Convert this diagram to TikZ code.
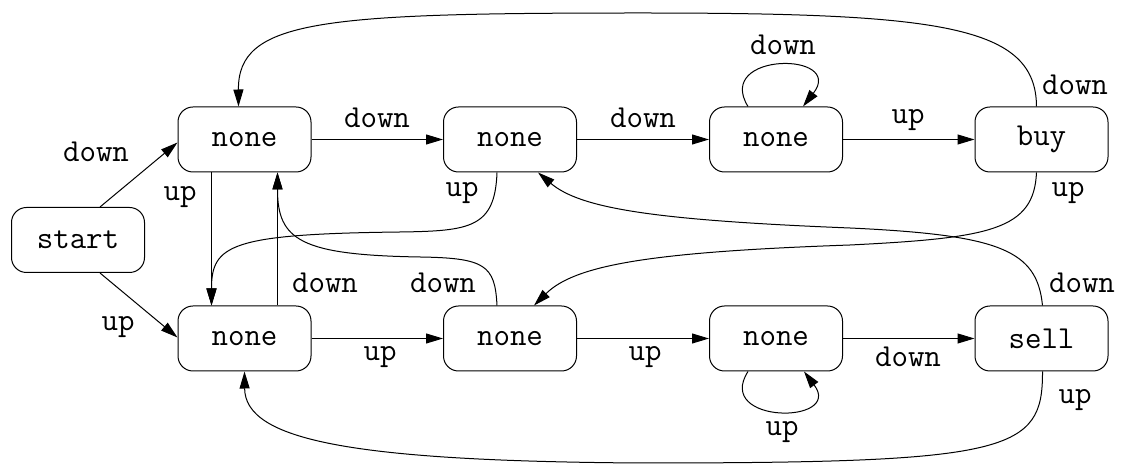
\documentclass[tikz,border=0pt]{standalone}
\usetikzlibrary{arrows.meta,calc}
\begin{document}
\begin{tikzpicture}[x=0.5pt,y=-0.5pt,
 state/.style={draw,rounded corners=7.5pt,minimum width=66.5pt,minimum height=32.5pt,inner sep=0pt,font=\fontsize{16}{18}\selectfont\ttfamily,line width=0.5pt},
 lbl/.style={inner sep=0pt,font=\fontsize{16}{18}\selectfont\ttfamily},
 arr/.style={-{Triangle[length=8.5pt,width=5pt]},line width=0.5pt}]
\useasboundingbox (0,0) rectangle (1121,464);
% states
\node[state] (start) at (78,240) {start};
\node[state] (a1) at (244.5,139.5) {none};
\node[state] (a2) at (510,139.5) {none};
\node[state] (a3) at (776,139.5) {none};
\node[state] (buy) at (1041.5,139.5) {buy};
\node[state] (b1) at (244.5,338.5) {none};
\node[state] (b2) at (510,338.5) {none};
\node[state] (b3) at (776,338.5) {none};
\node[state] (sell) at (1041.5,338.5) {sell};
% straight edges
\draw[arr] ($(start.north)+(22,0)$) -- ($(a1.west)+(0,3)$);
\draw[arr] ($(start.south)+(22,0)$) -- ($(b1.west)+(0,-1)$);
\draw[arr] ($(a1.south)+(-33,0)$) -- ($(b1.north)+(-33,0)$);
\draw[arr] ($(b1.north)+(33,0)$) -- ($(a1.south)+(33,0)$);
\draw[arr] (a1.east) -- (a2.west);
\draw[arr] (a2.east) -- (a3.west);
\draw[arr] (a3.east) -- (buy.west);
\draw[arr] (b1.east) -- (b2.west);
\draw[arr] (b2.east) -- (b3.west);
\draw[arr] (b3.east) -- (sell.west);
% loops
\draw[arr] ($(a3.north)+(-28,0)$) .. controls ($(a3.north)+(-62,-55)$) and ($(a3.north)+(70,-55)$) .. ($(a3.north)+(27,0)$);
\draw[arr] ($(b3.south)+(-28,0)$) .. controls ($(b3.south)+(-62,53)$) and ($(b3.south)+(68,53)$) .. ($(b3.south)+(28,0)$);
% curved edges
\draw[arr] ($(buy.north)+(-5,0)$) .. controls (1036,25) and (940,13) .. (640,13) .. controls (320,13) and (238,20) .. ($(a1.north)+(-6,0)$);
\draw[arr] ($(buy.south)+(-5,0)$) .. controls (1034,230) and (990,238) .. (850,245) .. controls (650,252) and (575,265) .. ($(b2.north)+(24,0)$);
\draw[arr] ($(sell.north)+(1,0)$) .. controls (1037,250) and (1000,235) .. (850,228) .. controls (650,220) and (580,208) .. ($(a2.south)+(28,0)$);
\draw[arr] ($(a2.south)+(-13,0)$) .. controls (495,228) and (470,231) .. (400,232) .. controls (230,234) and (211.5,245) .. ($(b1.north)+(-33,0)$);
\draw[arr] ($(b2.north)+(-13,0)$) .. controls (495,265) and (485,258) .. (420,257) .. controls (300,255) and (277.5,240) .. ($(a1.south)+(33,0)$);
\draw[arr] ($(sell.south)+(1,0)$) .. controls (1043,452) and (1010,463) .. (640,463) .. controls (350,461) and (245,440) .. (b1.south);
% labels
\node[lbl] (l1) at (96,152) {down};
\node[lbl] (l2) at (118,327) {up};
\node[lbl] (l3) at (180,197) {up};
\node[lbl] (l4) at (325,283) {down};
\node[lbl] (l5) at (377,118) {down};
\node[lbl] (l6) at (643,118) {down};
\node[lbl] (l7) at (783,45) {down};
\node[lbl] (l8) at (908,120) {up};
\node[lbl] (l9) at (1075,85) {down};
\node[lbl] (l10) at (462,193) {up};
\node[lbl] (l11) at (1068,193) {up};
\node[lbl] (l12) at (443,283) {down};
\node[lbl] (l13) at (1082,283) {down};
\node[lbl] (l14) at (380,357) {up};
\node[lbl] (l15) at (645,357) {up};
\node[lbl] (l16) at (908,357) {down};
\node[lbl] (l17) at (782,432) {up};
\node[lbl] (l18) at (1075,400) {up};
\end{tikzpicture}
\end{document}
